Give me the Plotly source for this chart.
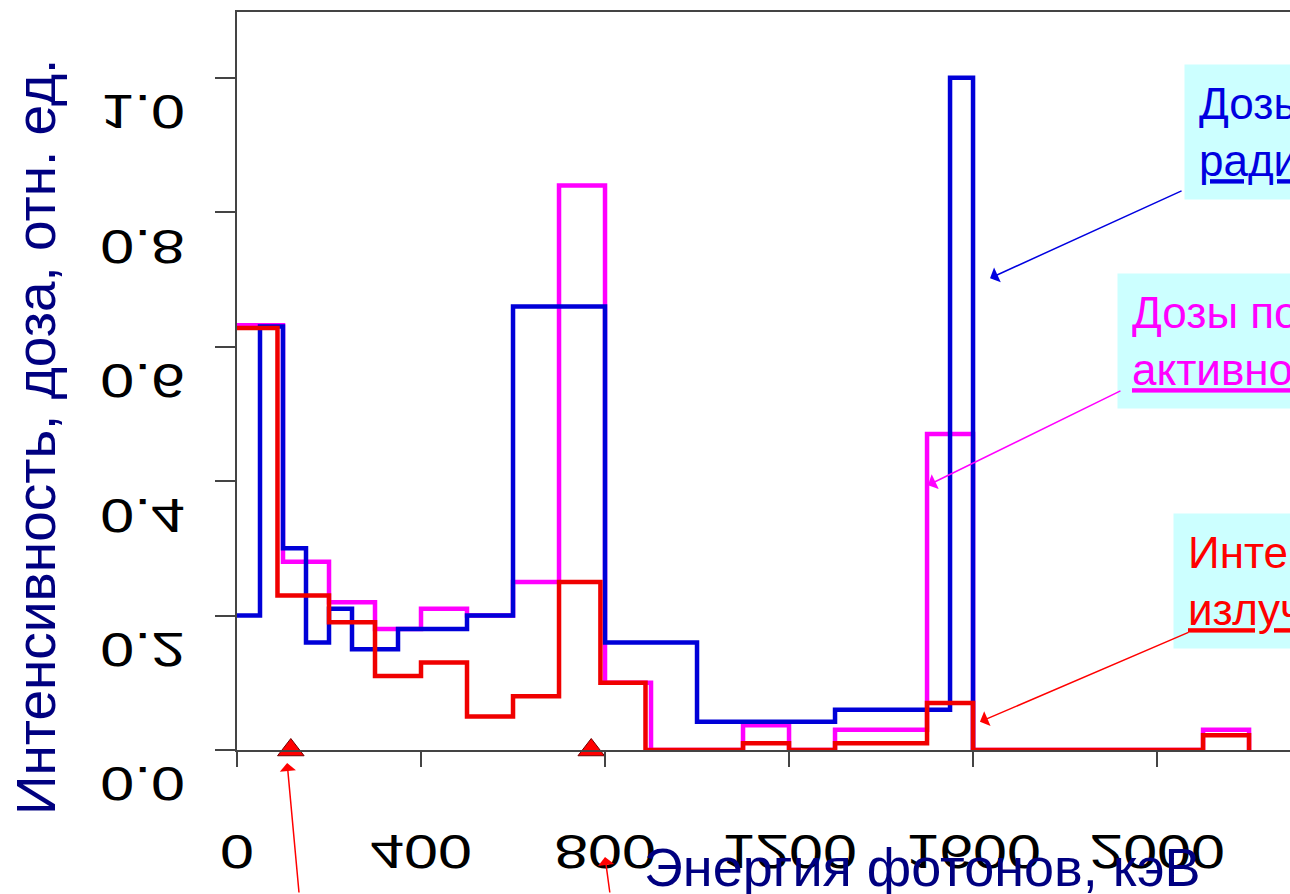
import plotly.graph_objects as go

# ---------------- data ----------------
energy_ticks = [0, 400, 800, 1200, 1600, 2000]
energy_tick_labels = ["0", "400", "800", "1200", "1600", "2000"]
y_ticks = [0.0, 0.2, 0.4, 0.6, 0.8, 1.0]
y_tick_labels = ["0.0", "0.2", "0.4", "0.6", "0.8", "1.0"]

# blue: doses by radionuclides (bin edges in keV, bin values)
blue_edges = [0, 50, 100, 150, 200, 250, 350, 500, 600, 800, 1000, 1300, 1550, 1600]
blue_values = [0.20, 0.63, 0.30, 0.16, 0.21, 0.15, 0.18, 0.20, 0.66, 0.16, 0.042, 0.06, 1.00]

# magenta: doses by activity
magenta_edges = [0, 100, 200, 300, 400, 500, 600, 700, 800, 900, 1100, 1200, 1300, 1500, 1600, 2100, 2200]
magenta_values = [0.632, 0.28, 0.22, 0.18, 0.21, 0.20, 0.25, 0.84, 0.10, 0.0, 0.037, 0.0, 0.03, 0.47, 0.0, 0.03]

# red: radiation intensity
red_edges = [0, 88, 200, 300, 400, 500, 600, 700, 790, 888, 1100, 1200, 1300, 1500, 1600, 2100, 2200]
red_values = [0.628, 0.23, 0.19, 0.11, 0.13, 0.05, 0.08, 0.25, 0.10, 0.0, 0.01, 0.0, 0.01, 0.07, 0.0, 0.022]

marker_energies = [117, 770]
marker_levels = [0, 0]

x_range = [0, 2289]
y_range = [0, 1.098]

FONT = "Liberation Sans, Arial, sans-serif"
NAVY = "#000080"
AXIS = "#444444"


def step_xy(edges, values):
    return list(edges), list(values) + [0]


fig = go.Figure()
for edges, values, color in [
    (magenta_edges, magenta_values, "#ff00ff"),
    (blue_edges, blue_values, "#0000d8"),
    (red_edges, red_values, "#f00000"),
]:
    xs, ys = step_xy(edges, values)
    fig.add_trace(go.Scatter(x=xs, y=ys, mode="lines", line=dict(color=color, width=4.5, shape="hv"),
                             cliponaxis=False, showlegend=False, hoverinfo="skip"))

fig.add_trace(go.Scatter(x=marker_energies, y=marker_levels, mode="markers", cliponaxis=False,
                         marker=dict(symbol="triangle-up", size=23, color="#ff0000",
                                     line=dict(color="#700000", width=1)),
                         showlegend=False, hoverinfo="skip"))

fig.update_layout(
    width=1290, height=894,
    margin=dict(l=237, r=0, t=12, b=144),
    paper_bgcolor="white", plot_bgcolor="white",
    font=dict(family=FONT),
    xaxis=dict(range=x_range, tickvals=energy_ticks, ticktext=energy_tick_labels,
               showgrid=False, zeroline=False, showline=True, linecolor=AXIS, linewidth=1.5,
               mirror=True, ticks="outside", ticklen=15, tickwidth=1.5, tickcolor=AXIS,
               tickfont=dict(family=FONT, size=48, color="black")),
    yaxis=dict(range=y_range, tickvals=y_ticks, ticktext=y_tick_labels,
               showgrid=False, zeroline=False, showline=True, linecolor=AXIS, linewidth=1.5,
               ticks="outside", ticklen=20, tickwidth=1.5, tickcolor=AXIS,
               tickfont=dict(family=FONT, size=48, color="black")),
)

ann = []
# axis titles
ann.append(dict(text="Интенсивность, доза, отн. ед.", xref="paper", yref="paper",
                x=-0.1909, y=0.424, xanchor="center", yanchor="middle", textangle=-90,
                showarrow=False, font=dict(family=FONT, size=55, color=NAVY)))
ann.append(dict(text="Энергия фотонов, кэВ", xref="paper", yref="paper",
                x=0.385, y=-0.1585, xanchor="left", yanchor="middle",
                showarrow=False, font=dict(family=FONT, size=54, color=NAVY)))

# labelled boxes
boxes = [
    ("Дозы по<br><u>радионуклидам</u>", "#0000e0", 0.8993, 0.9295),
    ("Дозы по<br><u>активности</u>", "#ff00ff", 0.8357, 0.6463),
    ("Интенсивность<br><u>излучения</u>", "#ff0000", 0.8889, 0.3211),
]
for text, color, x, y in boxes:
    ann.append(dict(text=text, xref="paper", yref="paper", x=x, y=y, xanchor="left", yanchor="top",
                    align="left", showarrow=False, bgcolor="#ccffff", borderpad=14,
                    font=dict(family=FONT, size=44, color=color)))

# arrows from boxes to curves
arrows = [
    (1637, 0.702, 193, -88, "#0000e0"),
    (1502, 0.394, 194, -95, "#ff00ff"),
    (1615, 0.042, 210, -90, "#ff0000"),
]
for x, y, ax, ay, color in arrows:
    ann.append(dict(text="", x=x, y=y, xref="x", yref="y", ax=ax, ay=ay, showarrow=True,
                    arrowhead=1, arrowsize=1.8, arrowwidth=1.5, arrowcolor=color))

# arrows from bottom
ann.append(dict(text="", x=109, y=-0.0176, xref="x", yref="paper", ax=12, ay=150, showarrow=True,
                arrowhead=1, arrowsize=1.8, arrowwidth=1.5, arrowcolor="#ff0000"))
ann.append(dict(text="", x=800, y=-0.145, xref="x", yref="paper", ax=5, ay=60, showarrow=True,
                arrowhead=1, arrowsize=1.8, arrowwidth=1.5, arrowcolor="#ff0000"))

fig.update_layout(annotations=ann)

post = r"""
document.body.style.margin='0';
document.body.style.overflow='hidden';
var gd=document.getElementById('{plot_id}');
var fl=gd._fullLayout, sz=fl._size, xa=fl.xaxis, ya=fl.yaxis;
var R=gd.querySelector('.main-svg').getBoundingClientRect();
var SX=1.27;
function flip(t, tx, ty){
  var b=t.getBBox(); var r=t.getBoundingClientRect();
  var cx0=r.left+r.width/2-R.left, cy0=r.top+r.height/2-R.top;
  var lx=b.x+b.width/2, ly=b.y+b.height/2;
  var o=t.getAttribute('transform')||'';
  t.setAttribute('transform', o+' translate('+(tx-cx0)+','+(ty-cy0)+') translate('+lx+','+ly+') scale('+SX+',-1) translate('+(-lx)+','+(-ly)+')');
}
gd.querySelectorAll('.xtick text').forEach(function(t){
  var v=parseFloat(t.textContent); flip(t, sz.l+xa.l2p(v), 851);
});
gd.querySelectorAll('.ytick text').forEach(function(t){
  var v=parseFloat(t.textContent); var r=t.getBoundingClientRect();
  flip(t, 185 - r.width*SX/2, sz.t+ya.l2p(v)+34);
});
"""

fig.write_html("out.html", config={"responsive": False, "displayModeBar": False}, post_script=post)
